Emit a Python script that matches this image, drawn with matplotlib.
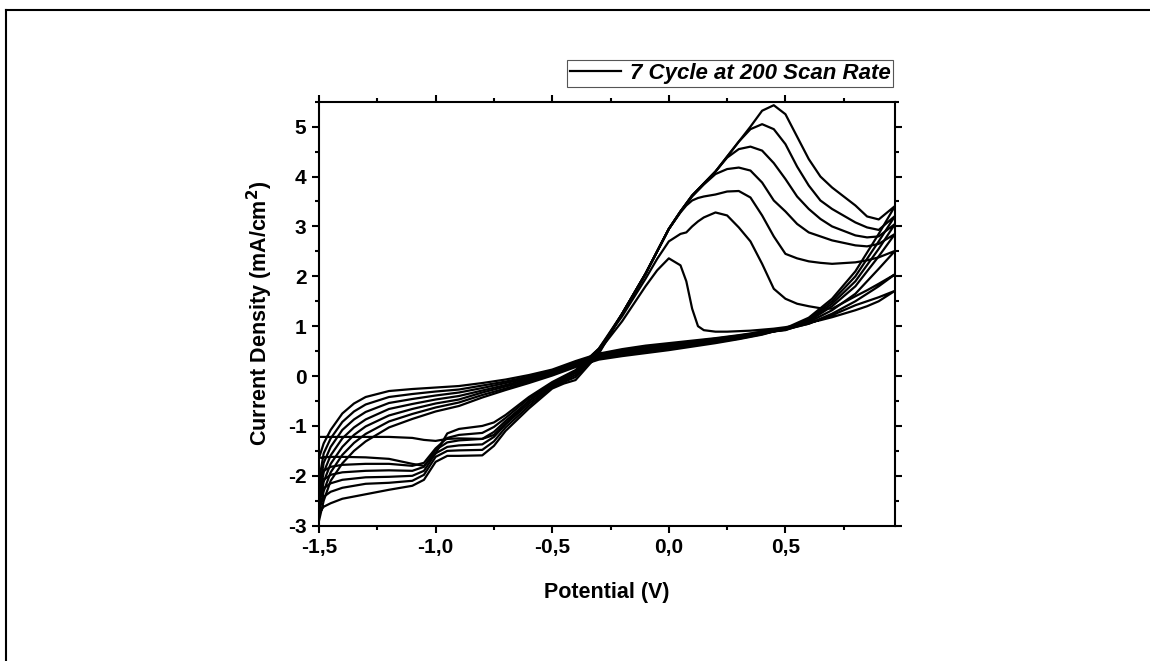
import matplotlib
matplotlib.use("Agg")
import matplotlib.pyplot as plt
from matplotlib.lines import Line2D
from matplotlib.ticker import MultipleLocator, FuncFormatter

plt.rcParams['font.family'] = ['Liberation Sans', 'DejaVu Sans']
plt.rcParams['font.weight'] = 'bold'
plt.rcParams['mathtext.default'] = 'bf'

# potential grid of the forward (anodic) sweep, -1.5 -> 0.97 V
xa = [-1.5, -1.48, -1.45, -1.4, -1.3, -1.2, -1.1, -1.05, -1.0, -0.95, -0.9, -0.8, -0.75, -0.7,
      -0.6, -0.5, -0.45, -0.4, -0.3, -0.2, -0.1, -0.05, 0.0, 0.05, 0.075, 0.1, 0.125, 0.15,
      0.2, 0.25, 0.3, 0.35, 0.4, 0.45, 0.5, 0.55, 0.6, 0.65, 0.7, 0.8, 0.85, 0.9, 0.97]

# potential grid of the reverse (cathodic) sweep, 0.97 -> -1.5 V
xc = [0.97, 0.9, 0.8, 0.7, 0.6, 0.5, 0.4, 0.3, 0.2, 0.1, 0.0, -0.1, -0.2, -0.3, -0.4, -0.5,
      -0.6, -0.7, -0.8, -0.9, -1.0, -1.1, -1.2, -1.3, -1.35, -1.4, -1.45, -1.48, -1.5]

# forward sweep current densities (mA/cm2), cycles 1..7
fwd1 = [-1.22, -1.22, -1.22, -1.22, -1.22, -1.22, -1.24, -1.28, -1.3, -1.26, -1.25, -1.26, -1.18, -0.95,
        -0.5, -0.15, -0.05, 0.08, 0.5, 1.1, 1.8, 2.12, 2.36, 2.22, 1.9, 1.35, 1.0, 0.92,
        0.89, 0.89, 0.9, 0.91, 0.93, 0.95, 0.98, 1.02, 1.07, 1.12, 1.18, 1.32, 1.4, 1.5, 1.71]
fwd2 = [-1.64, -1.63, -1.62, -1.62, -1.63, -1.66, -1.76, -1.8, -1.55, -1.15, -1.06, -1.0, -0.93, -0.78,
        -0.42, -0.12, 0.0, 0.12, 0.55, 1.2, 1.95, 2.35, 2.7, 2.85, 2.88, 3.0, 3.1, 3.18,
        3.28, 3.22, 2.98, 2.7, 2.25, 1.75, 1.55, 1.45, 1.4, 1.36, 1.35, 1.6, 1.72, 1.85, 2.04]
fwd3 = [-2.1, -1.9, -1.82, -1.78, -1.76, -1.76, -1.8, -1.74, -1.45, -1.24, -1.18, -1.14, -1.02, -0.84,
        -0.45, -0.14, -0.03, 0.1, 0.55, 1.25, 2.05, 2.5, 2.95, 3.28, 3.42, 3.52, 3.57, 3.6,
        3.64, 3.7, 3.71, 3.58, 3.22, 2.8, 2.45, 2.36, 2.3, 2.27, 2.25, 2.28, 2.32, 2.38, 2.51]
fwd4 = [-2.3, -2.08, -1.98, -1.93, -1.9, -1.89, -1.9, -1.82, -1.48, -1.33, -1.29, -1.26, -1.12, -0.9,
        -0.5, -0.17, -0.06, 0.06, 0.52, 1.25, 2.05, 2.5, 2.95, 3.3, 3.45, 3.6, 3.72, 3.84,
        4.05, 4.15, 4.18, 4.12, 3.88, 3.52, 3.3, 3.05, 2.88, 2.8, 2.72, 2.62, 2.6, 2.65, 2.85]
fwd5 = [-2.45, -2.25, -2.15, -2.08, -2.03, -2.02, -2.0, -1.9, -1.55, -1.42, -1.39, -1.37, -1.22, -0.97,
        -0.55, -0.2, -0.09, 0.02, 0.5, 1.25, 2.05, 2.5, 2.95, 3.3, 3.46, 3.62, 3.74, 3.86,
        4.1, 4.38, 4.55, 4.6, 4.52, 4.27, 3.95, 3.6, 3.35, 3.15, 3.0, 2.82, 2.78, 2.8, 3.05]
fwd6 = [-2.6, -2.42, -2.32, -2.24, -2.16, -2.14, -2.1, -1.98, -1.62, -1.5, -1.49, -1.48, -1.31, -1.03,
        -0.6, -0.22, -0.12, -0.02, 0.47, 1.25, 2.05, 2.5, 2.95, 3.3, 3.46, 3.62, 3.74, 3.86,
        4.1, 4.4, 4.7, 4.95, 5.05, 4.95, 4.65, 4.2, 3.82, 3.52, 3.35, 3.08, 2.98, 2.93, 3.21]
fwd7 = [-2.75, -2.62, -2.55, -2.46, -2.37, -2.28, -2.2, -2.08, -1.72, -1.6, -1.6, -1.59, -1.4, -1.1,
        -0.65, -0.25, -0.15, -0.08, 0.45, 1.25, 2.05, 2.5, 2.95, 3.3, 3.46, 3.62, 3.74, 3.86,
        4.1, 4.4, 4.7, 5.0, 5.32, 5.43, 5.25, 4.8, 4.35, 4.0, 3.78, 3.42, 3.2, 3.14, 3.41]

# reverse sweep current densities (mA/cm2), cycles 1..7
rev1 = [1.71, 1.58, 1.42, 1.22, 1.05, 0.94, 0.89, 0.82, 0.76, 0.71, 0.66, 0.61, 0.54, 0.45, 0.3, 0.13,
        0.02, -0.07, -0.14, -0.2, -0.23, -0.26, -0.3, -0.42, -0.55, -0.75, -1.08, -1.35, -1.64]
rev2 = [2.04, 1.8, 1.5, 1.25, 1.05, 0.93, 0.88, 0.81, 0.75, 0.69, 0.64, 0.59, 0.52, 0.43, 0.28, 0.11,
        -0.01, -0.11, -0.19, -0.27, -0.31, -0.36, -0.42, -0.57, -0.71, -0.92, -1.25, -1.55, -2.1]
rev3 = [2.51, 2.15, 1.65, 1.32, 1.08, 0.92, 0.87, 0.79, 0.73, 0.67, 0.62, 0.56, 0.5, 0.41, 0.26, 0.09,
        -0.04, -0.14, -0.24, -0.33, -0.39, -0.46, -0.54, -0.72, -0.87, -1.08, -1.42, -1.74, -2.3]
rev4 = [2.85, 2.4, 1.8, 1.4, 1.1, 0.93, 0.86, 0.78, 0.71, 0.65, 0.59, 0.54, 0.47, 0.39, 0.24, 0.07,
        -0.06, -0.18, -0.29, -0.4, -0.47, -0.56, -0.66, -0.87, -1.03, -1.25, -1.59, -1.93, -2.45]
rev5 = [3.05, 2.55, 1.9, 1.45, 1.12, 0.94, 0.85, 0.77, 0.7, 0.63, 0.57, 0.51, 0.45, 0.37, 0.22, 0.05,
        -0.09, -0.21, -0.33, -0.47, -0.55, -0.66, -0.79, -1.01, -1.18, -1.42, -1.76, -2.12, -2.6]
rev6 = [3.21, 2.7, 2.0, 1.5, 1.14, 0.95, 0.84, 0.75, 0.68, 0.61, 0.55, 0.49, 0.42, 0.35, 0.2, 0.03,
        -0.11, -0.25, -0.38, -0.53, -0.63, -0.76, -0.91, -1.16, -1.34, -1.58, -1.93, -2.31, -2.75]
rev7 = [3.41, 2.85, 2.1, 1.55, 1.17, 0.96, 0.83, 0.74, 0.66, 0.59, 0.52, 0.46, 0.4, 0.33, 0.18, 0.01,
        -0.14, -0.28, -0.43, -0.6, -0.71, -0.86, -1.03, -1.31, -1.5, -1.75, -2.1, -2.5, -2.9]

forward = [fwd1, fwd2, fwd3, fwd4, fwd5, fwd6, fwd7]
reverse = [rev1, rev2, rev3, rev4, rev5, rev6, rev7]

legend_text = "7 Cycle at 200 Scan Rate"

fig = plt.figure(figsize=(11.5, 6.61), dpi=100)
ax = fig.add_axes([0.2774, 0.2047, 0.5009, 0.6414])

for i in range(len(forward)):
    x = xa + xc
    y = forward[i] + reverse[i]
    ax.plot(x, y, color='black', lw=1.6, label=legend_text if i == 0 else None)

ax.set_xlim(-1.5, 0.97)
ax.set_ylim(-3, 5.5)
ax.xaxis.set_major_locator(MultipleLocator(0.5))
ax.xaxis.set_minor_locator(MultipleLocator(0.25))
ax.yaxis.set_major_locator(MultipleLocator(1))
ax.yaxis.set_minor_locator(MultipleLocator(0.5))
ax.xaxis.set_major_formatter(FuncFormatter(lambda v, p: ('%.1f' % v).replace('.', ',')))
ax.yaxis.set_major_formatter(FuncFormatter(lambda v, p: '%d' % round(v)))

ax.tick_params(which='both', direction='out', top=True, right=True, width=1.5)
ax.tick_params(which='major', length=5, labelsize=15, pad=4)
ax.tick_params(which='minor', length=3)
for s in ax.spines.values():
    s.set_linewidth(1.5)
for lab in ax.get_xticklabels() + ax.get_yticklabels():
    lab.set_fontweight('bold')

ax.set_xlabel('Potential (V)', fontsize=15.5, fontweight='bold', labelpad=18)
ax.set_ylabel('Current Density (mA/cm$^2$)', fontsize=15.5, fontweight='bold', labelpad=9)

leg = ax.legend(loc='upper right', bbox_to_anchor=(0.997, 1.098), borderaxespad=0,
                fancybox=False, edgecolor='#555555', framealpha=1, handlelength=2.3,
                borderpad=0.12, handletextpad=0.4,
                prop={'weight': 'bold', 'style': 'italic', 'size': 16})
leg.get_frame().set_linewidth(0.8)

# frame lines at the left and top of the figure
fig.add_artist(Line2D([6 / 1150, 6 / 1150], [0, 1 - 10 / 661], color='black', lw=1.5,
                      transform=fig.transFigure))
fig.add_artist(Line2D([6 / 1150, 1], [1 - 10 / 661, 1 - 10 / 661], color='black', lw=1.5,
                      transform=fig.transFigure))

fig.savefig('out.png', dpi=100)
